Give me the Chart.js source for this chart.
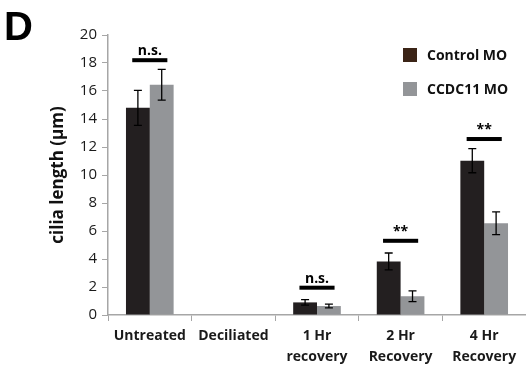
<!DOCTYPE html>
<html>
<head>
<meta charset="utf-8">
<script src="https://cdn.jsdelivr.net/npm/chart.js@4.4.1/dist/chart.umd.min.js"></script>
<style>
html,body{margin:0;padding:0;background:#fff;}
#wrap{width:526px;height:372px;position:relative;}
</style>
</head>
<body>
<div id="wrap"><canvas id="c" width="526" height="372"></canvas></div>
<script>
const categories = [['Untreated'], ['Deciliated'], ['1 Hr', 'recovery'], ['2 Hr', 'Recovery'], ['4 Hr', 'Recovery']];
const seriesNames = ['Control MO', 'CCDC11 MO'];
const controlMO = [14.8, null, 0.9, 3.83, 11.02];
const ccdc11MO = [16.45, null, 0.64, 1.34, 6.55];
const controlErr = [1.25, null, 0.2, 0.6, 0.86];
const ccdc11Err = [1.1, null, 0.13, 0.38, 0.81];
const sigLabels = ['n.s.', '', 'n.s.', '**', '**'];
const sigLevels = [18.2, null, 1.95, 5.3, 12.57];
const yTicks = [0, 2, 4, 6, 8, 10, 12, 14, 16, 18, 20];

const FONT = "'Open Sans', 'Liberation Sans', sans-serif";
const darkCol = '#231f20';
const grayCol = '#939598';
const axisCol = '#a6a6a6';

const errPlugin = {
  id: 'errbars',
  afterDatasetsDraw(chart) {
    const ctx = chart.ctx;
    const y = chart.scales.y;
    const errs = [controlErr, ccdc11Err];
    ctx.save();
    ctx.strokeStyle = '#000';
    ctx.lineWidth = 1.3;
    chart.data.datasets.forEach((ds, di) => {
      const meta = chart.getDatasetMeta(di);
      meta.data.forEach((bar, i) => {
        const v = ds.data[i], e = errs[di][i];
        if (v == null || e == null) return;
        const x = bar.x;
        const yt = y.getPixelForValue(v + e), yb = y.getPixelForValue(v - e);
        ctx.beginPath();
        ctx.moveTo(x, yt); ctx.lineTo(x, yb);
        ctx.moveTo(x - 4, yt); ctx.lineTo(x + 4, yt);
        ctx.moveTo(x - 4, yb); ctx.lineTo(x + 4, yb);
        ctx.stroke();
      });
    });
    // significance bars
    const xs = chart.scales.x;
    ctx.fillStyle = '#000';
    sigLevels.forEach((lv, i) => {
      if (lv == null) return;
      const cx = xs.getPixelForValue(i);
      const w = xs.width / categories.length;
      const py = y.getPixelForValue(lv);
      ctx.fillRect(cx - 0.21 * w, py - 2, 0.42 * w, 4);
      ctx.font = 'bold 14px ' + FONT;
      ctx.textAlign = 'center';
      ctx.textBaseline = 'alphabetic';
      ctx.fillText(sigLabels[i], cx, py - 5);
    });
    // panel letter
    ctx.font = "bold 40px 'Liberation Sans', Arial, sans-serif";
    ctx.textAlign = 'left';
    ctx.fillText('D', 4, 40);
    // legend
    const cols = ['#3b2416', '#939598'];
    const ly = [55, 89];
    seriesNames.forEach((n, k) => {
      ctx.fillStyle = cols[k];
      ctx.fillRect(403, ly[k] - 7, 14, 14);
      ctx.fillStyle = '#111';
      ctx.font = 'bold 14px ' + FONT;
      ctx.textBaseline = 'middle';
      ctx.fillText(n, 427, ly[k] + 1);
    });
    ctx.restore();
  }
};

new Chart(document.getElementById('c'), {
  type: 'bar',
  data: {
    labels: categories,
    datasets: [
      { label: seriesNames[0], data: controlMO, backgroundColor: darkCol, borderWidth: 0 },
      { label: seriesNames[1], data: ccdc11MO, backgroundColor: grayCol, borderWidth: 0 }
    ]
  },
  options: {
    responsive: false,
    animation: false,
    devicePixelRatio: 1,
    layout: { padding: { top: 35, right: 0, bottom: 0, left: 0 } },
    plugins: { legend: { display: false }, tooltip: { enabled: false } },
    datasets: { bar: { barPercentage: 1.0, categoryPercentage: 0.57 } },
    scales: {
      x: {
        grid: { display: true, drawOnChartArea: false, drawTicks: true, tickLength: 6, color: axisCol, offset: true },
        border: { display: true, color: axisCol, width: 1.5 },
        ticks: { color: '#1a1a1a', font: { family: FONT, size: 14, weight: 'bold', lineHeight: 1.5 }, padding: 5, maxRotation: 0, autoSkip: false },
        afterFit(s) { s.height = 57; }
      },
      y: {
        min: 0, max: 20,
        afterBuildTicks(s) { s.ticks = yTicks.map(v => ({ value: v })); },
        grid: { display: true, drawOnChartArea: false, drawTicks: true, tickLength: 6, color: axisCol },
        border: { display: true, color: axisCol, width: 1.5 },
        ticks: { color: '#1a1a1a', font: { family: FONT, size: 15 }, padding: 5 },
        title: { display: true, text: 'cilia length (μm)', color: '#111', font: { family: FONT, size: 17, weight: 'bold' }, padding: { top: 48, bottom: 0 } },
        afterFit(s) { s.width = 108; }
      }
    }
  },
  plugins: [errPlugin]
});
</script>
</body>
</html>
